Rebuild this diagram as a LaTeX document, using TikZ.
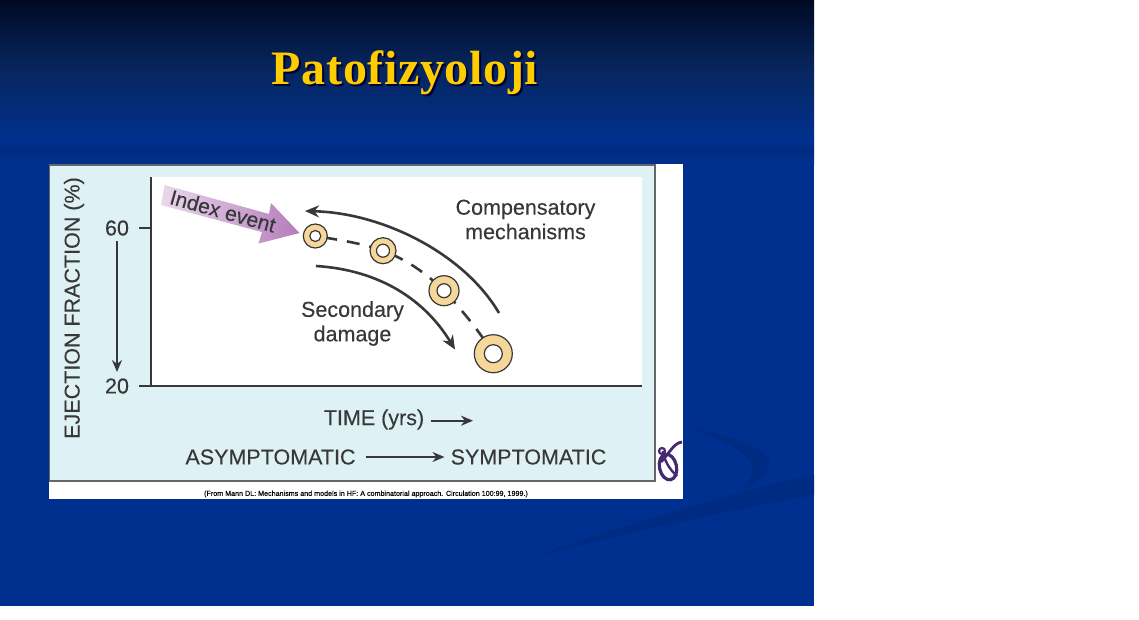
\documentclass[tikz,border=0pt]{standalone}
\usepackage{fontspec}
\setmainfont{Liberation Sans}
\newfontfamily\labfont[FakeBold=0.25]{Liberation Sans}
\newfontfamily\capfont[FakeBold=0.12]{Liberation Sans}
\newfontfamily\titlefont[LetterSpace=1.3]{Liberation Serif}
\usetikzlibrary{arrows.meta,calc}
\definecolor{slideblue}{HTML}{00308F}
\definecolor{slidetop}{HTML}{000A24}
\definecolor{slidemid}{HTML}{07265F}
\definecolor{swoosh}{HTML}{002B82}
\definecolor{panelcyan}{HTML}{DEF1F4}
\definecolor{ink}{HTML}{38383A}
\definecolor{ringfill}{HTML}{F5D79A}
\definecolor{titlegold}{HTML}{FFCC00}
\definecolor{logopurple}{HTML}{46286E}
\definecolor{idxlight}{HTML}{EAD8EC}
\definecolor{idxdark}{HTML}{B67CBC}
\tikzset{
  lab/.style={inner sep=0pt,text=ink,font=\labfont\fontsize{#1}{#1}\selectfont,align=center},
  lab/.default=21.5,
  ring/.style={circle,draw=ink,line width=1.2pt,fill=ringfill,inner sep=0pt,minimum size=#1},
  hole/.style={circle,draw=ink,line width=1.2pt,fill=white,inner sep=0pt,minimum size=#1},
  curvearrow/.style={draw=ink,line width=2.6pt,-{Stealth[length=14pt,width=12pt]}},
  straightarrow/.style={draw=ink,line width=2.2pt,-{Stealth[length=12pt,width=10pt]}},
  axisline/.style={draw=ink,line width=2pt},
  tick/.style={draw=ink,line width=1.2pt},
}
\begin{document}
\begin{tikzpicture}[x=1pt,y=-1pt]
\useasboundingbox (0,0) rectangle (1139,619);
% slide background
\fill[white] (0,0) rectangle (1139,619);
\fill[slideblue] (0,0) rectangle (814,606);
\shade[top color=slidetop,bottom color=slidemid] (0,0) rectangle (814,70);
\shade[top color=slidemid,bottom color=slideblue] (0,70) rectangle (814,140);
% watermark swooshes
\shade[top color=slideblue,bottom color=swoosh] (0,140) rectangle (814,150);
\shade[top color=swoosh,bottom color=slideblue] (0,150) rectangle (814,164);
\fill[swoosh] (814,475) .. controls (740,490) and (640,520) .. (533,557)
  .. controls (620,535) and (730,510) .. (814,495) -- cycle;
\fill[swoosh] (686,427) .. controls (730,435) and (775,450) .. (769,465)
  .. controls (765,478) and (755,485) .. (742,489)
  .. controls (752,478) and (755,470) .. (750,462)
  .. controls (740,448) and (715,437) .. (686,427) -- cycle;
% white mount and panels
\fill[white] (49,164) rectangle (683,499);
\fill[panelcyan,draw=black!60,line width=1.2pt] (49.5,165) rectangle (655,481);
\fill[white] (151,177) rectangle (642,386);
% logo
\draw[logopurple,line width=3.2pt,rotate around={12:(668,467)}] (668,467) ellipse (8.5pt and 13pt);
\draw[logopurple,line width=2.4pt] (663,451) .. controls (664,459) and (668,468) .. (677,476);
\draw[logopurple,line width=2.8pt] (682,442) .. controls (674,443) and (670,452) .. (661,462);
\draw[logopurple,line width=2.2pt] (662,451) circle (3pt);
% title
\node[inner sep=0pt,text=titlegold,font=\titlefont\bfseries\fontsize{48}{48}\selectfont] (title) at (405,74)
  {\rlap{\hspace{2pt}\raisebox{-2pt}{\textcolor{black!80!blue}{Patofizyoloji}}}Patofizyoloji};
% axes
\coordinate (o) at (151,386);
\coordinate (ytop) at (151,177);
\coordinate (xend) at (642,386);
\coordinate (t60a) at (139,228);
\coordinate (t60b) at (151,228);
\coordinate (t20a) at (139,386);
\draw[axisline] (ytop) -- (o) -- (xend);
\draw[tick] (t60a) -- (t60b);
\draw[tick] (t20a) -- (o);
% axis labels
\node[lab,rotate=90] (yl) at (74,308) {EJECTION FRACTION (\%)};
\node[lab] (n60) at (117,228) {60};
\node[lab] (n20) at (117,386) {20};
\coordinate (da) at (117,241);
\coordinate (db) at (117,372);
\draw[straightarrow] (da) -- (db);
% index event arrow
\shade[left color=idxlight,right color=idxdark,draw=none]
  (164.5,185) -- (269,214) -- (271,203) -- (299.5,233) -- (258.5,243.5) -- (262,232) -- (161,205) -- cycle;
\node[lab=21,rotate=-15.5] (idx) at (223,211) {Index event};
% dashed trajectory
\coordinate (p1) at (315.3,236);
\coordinate (p2) at (383,250.7);
\coordinate (p3) at (444,290.7);
\coordinate (p4) at (493.3,353.7);
\draw[draw=ink,line width=2.6pt,dash pattern=on 13pt off 10pt,dash phase=14pt] (p1) .. controls (340,240) and (365,244) .. (p2)
  .. controls (405,259) and (425,272) .. (p3) .. controls (462,310) and (480,332) .. (p4);
\node[ring=24pt] (r1) at (p1) {};
\node[hole=11pt] (h1) at (r1.center) {};
\node[ring=26pt] (r2) at (p2) {};
\node[hole=13pt] (h2) at (r2.center) {};
\node[ring=30pt] (r3) at (p3) {};
\node[hole=14pt] (h3) at (r3.center) {};
\node[ring=38pt] (r4) at (p4) {};
\node[hole=18pt] (h4) at (r4.center) {};
% curved arrows
\coordinate (ca) at (499,313);
\coordinate (cb) at (305,211);
\coordinate (sa) at (316,266);
\coordinate (sb) at (455,349.5);
\draw[curvearrow] (ca) .. controls (465,255) and (385,213) .. (cb);
\draw[curvearrow] (sa) .. controls (380,270) and (425,300) .. (sb);
% labels
\node[lab] (comp) at (525.5,219.5) {Compensatory\\[3pt]mechanisms};
\node[lab] (sec) at (352.5,323.5) {Secondary\\[3pt]damage};
\node[lab] (time) at (374,419.5) {TIME (yrs)};
\coordinate (ta) at (431,420.7);
\coordinate (tb) at (473,420.7);
\draw[straightarrow] (ta) -- (tb);
\node[lab] (asym) at (270.5,457) {ASYMPTOMATIC};
\node[lab] (sym) at (528.5,457) {SYMPTOMATIC};
\draw[straightarrow] ($(asym.east)+(10,0)$) -- ($(sym.west)+(-6,0)$);
\node[inner sep=0pt,text=black,font=\capfont\fontsize{7.15}{7.15}\selectfont] (cap) at (366,494)
  {(From Mann DL: Mechanisms and models in HF: A combinatorial approach. Circulation 100:99, 1999.)};
\end{tikzpicture}
\end{document}
